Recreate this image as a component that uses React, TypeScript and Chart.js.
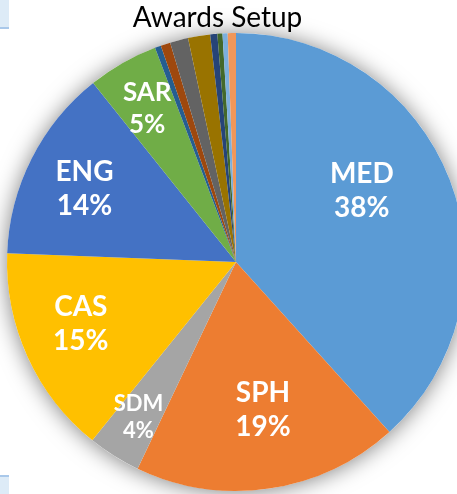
import React, { useEffect, useRef } from "react";
import { Chart, registerables } from "chart.js";

Chart.register(...registerables);

const categories = ["MED", "SPH", "SDM", "CAS", "ENG", "SAR", "OT1", "OT2", "OT3", "OT4", "OT5", "OT6", "OT7", "OT8"];
const shares = [38.3, 18.75, 3.72, 14.8, 13.67, 4.97, 0.43, 0.68, 1.28, 1.56, 0.5, 0.36, 0.36, 0.58];
const sliceColors = [
  "#5B9BD5", "#ED7D31", "#A5A5A5", "#FFC000", "#4472C4", "#70AD47",
  "#255E91", "#9E480E", "#636363", "#997300", "#264478", "#43682B", "#7CAFDD", "#F1975A",
];
const chartTitle = "Awards Setup";

// label placement: [fraction along the arc, fraction of radius, font size]
const labelPlace: Record<string, [number, number, number]> = {
  MED: [0.44, 0.63, 28],
  SPH: [0.47, 0.656, 28],
  SDM: [0.5, 0.8, 22],
  CAS: [0.55, 0.73, 28],
  ENG: [0.48, 0.735, 28],
  SAR: [0.48, 0.775, 26],
};

const shadowPlugin = {
  id: "pieShadow",
  beforeDatasetsDraw(chart: any) {
    const meta = chart.getDatasetMeta(0);
    const arc = meta.data[0];
    if (!arc) return;
    const ctx = chart.ctx;
    ctx.save();
    ctx.shadowColor = "rgba(0,0,0,0.5)";
    ctx.shadowBlur = 22;
    ctx.shadowOffsetX = 0;
    ctx.shadowOffsetY = 1;
    ctx.beginPath();
    ctx.arc(arc.x, arc.y, arc.outerRadius, 0, Math.PI * 2);
    ctx.fillStyle = "#ffffff";
    ctx.fill();
    ctx.restore();
  },
};

const labelPlugin = {
  id: "pieLabels",
  afterDatasetsDraw(chart: any) {
    const meta = chart.getDatasetMeta(0);
    const data: number[] = chart.data.datasets[0].data;
    const total = data.reduce((a, b) => a + b, 0);
    const ctx = chart.ctx;
    ctx.save();
    ctx.fillStyle = "#ffffff";
    ctx.textAlign = "center";
    ctx.textBaseline = "middle";
    meta.data.forEach((arc: any, i: number) => {
      const name = chart.data.labels[i];
      const place = labelPlace[name];
      if (!place) return;
      const [t, rf, fs] = place;
      const a = arc.startAngle + (arc.endAngle - arc.startAngle) * t;
      const r = arc.outerRadius * rf;
      const x = arc.x + Math.cos(a) * r;
      const y = arc.y + Math.sin(a) * r;
      const pct = Math.round((data[i] / total) * 100) + "%";
      const lh = fs * 1.22;
      ctx.font = `bold ${fs}px Lato, "Open Sans", sans-serif`;
      ctx.fillText(name, x, y - lh / 2);
      ctx.fillText(pct, x, y + lh / 2);
    });
    ctx.restore();
  },
};

const titlePlugin = {
  id: "sideTitle",
  afterDraw(chart: any) {
    const ctx = chart.ctx;
    ctx.save();
    ctx.fillStyle = "#000000";
    ctx.font = `28px Lato, "Open Sans", sans-serif`;
    ctx.textAlign = "center";
    ctx.textBaseline = "alphabetic";
    ctx.fillText(chartTitle, 217.5, 27);
    ctx.restore();
  },
};

export default function App() {
  const ref = useRef<HTMLCanvasElement | null>(null);
  useEffect(() => {
    if (!ref.current) return;
    const chart = new Chart(ref.current, {
      type: "pie",
      data: {
        labels: categories,
        datasets: [
          {
            data: shares,
            backgroundColor: sliceColors,
            borderWidth: 0,
          },
        ],
      },
      options: {
        animation: false,
        responsive: false,
        maintainAspectRatio: false,
        layout: { padding: { top: 33, left: 7, right: 7, bottom: 3 } },
        plugins: {
          legend: { display: false },
          tooltip: { enabled: false },
          title: { display: false },
        },
      },
      plugins: [shadowPlugin, labelPlugin, titlePlugin],
    });
    if ((document as any).fonts) {
      Promise.all([
        (document as any).fonts.load("bold 28px Lato"),
        (document as any).fonts.load("28px Lato"),
      ]).then(() => chart.update()).catch(() => {});
    }
    return () => chart.destroy();
  }, []);
  return (
    <div
      style={{
        position: "absolute",
        left: 0,
        top: 0,
        width: 457,
        height: 494,
        overflow: "hidden",
        background: "#ffffff",
      }}
    >
      <canvas ref={ref} width={472} height={494} style={{ position: "absolute", left: 0, top: 0 }} />
      <div
        style={{
          position: "absolute",
          left: 0,
          top: 0,
          width: 9,
          height: 27,
          background: "#DDEBF7",
          borderBottom: "2px solid #A9C8EA",
        }}
      />
      <div
        style={{
          position: "absolute",
          left: 0,
          top: 475,
          width: 9,
          height: 19,
          background: "#DDEBF7",
          borderTop: "2px solid #A9C8EA",
        }}
      />
    </div>
  );
}
